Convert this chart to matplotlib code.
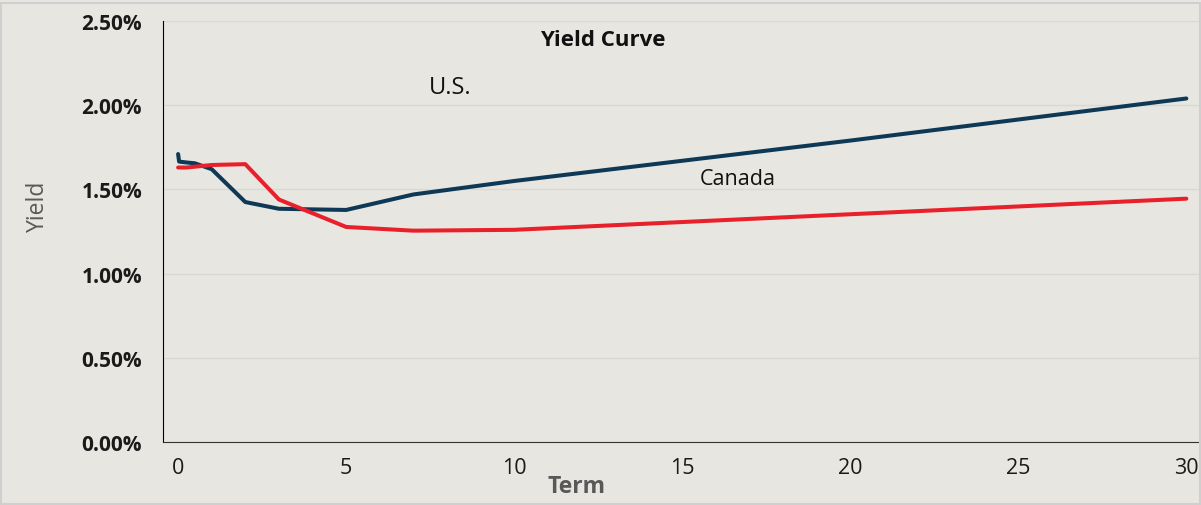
import matplotlib.pyplot as plt
from matplotlib.ticker import FuncFormatter
from matplotlib.patches import Rectangle

plt.rcParams['font.family'] = ['Open Sans', 'DejaVu Sans']

# Datos de la curva de rendimiento (plazo en años, rendimiento en %)
us_term = [0.0, 0.03, 0.25, 0.5, 1, 2, 3, 5, 7, 10, 20, 30]
us_yield = [1.71, 1.665, 1.66, 1.655, 1.62, 1.425, 1.385, 1.378, 1.47, 1.55, 1.79, 2.04]

ca_term = [0.0, 0.25, 0.5, 1, 2, 3, 5, 7, 10, 30]
ca_yield = [1.63, 1.63, 1.635, 1.645, 1.65, 1.44, 1.277, 1.255, 1.26, 1.445]

x_ticks = [0, 5, 10, 15, 20, 25, 30]
y_ticks = [0, 0.5, 1.0, 1.5, 2.0, 2.5]

bg = '#E8E6E0'
fig = plt.figure(figsize=(12.01, 5.06), dpi=100, facecolor=bg)
ax = fig.add_axes([0.1357, 0.1245, 0.8633, 0.832])
ax.set_facecolor(bg)

ax.plot(us_term, us_yield, color='#0E3956', lw=2.9, solid_capstyle='round')
ax.plot(ca_term, ca_yield, color='#E8202B', lw=2.9, solid_capstyle='round')

ax.set_xlim(-0.45, 30.4)
ax.set_ylim(0, 2.5)
ax.set_xticks(x_ticks)
ax.set_yticks(y_ticks)
ax.yaxis.set_major_formatter(FuncFormatter(lambda v, p: f'{v:.2f}%'))
ax.grid(axis='y', color='#D9D8D4', lw=1)
ax.set_axisbelow(True)
ax.tick_params(length=0)
ax.tick_params(axis='y', pad=15, labelsize=15, labelcolor='#1a1a1a')
ax.tick_params(axis='x', pad=11, labelsize=15.5, labelcolor='#1a1a1a')
for lab in ax.get_yticklabels():
    lab.set_fontweight('bold')

for s in ['top', 'right']:
    ax.spines[s].set_visible(False)
ax.spines['left'].set_color('black')
ax.spines['bottom'].set_color('#333333')

# Textos
fig.text(603 / 1201, 1 - 40 / 506, 'Yield Curve', ha='center', va='center',
         fontsize=16, fontweight='bold', color='#111111')
fig.text(450 / 1201, 1 - 88 / 506, 'U.S.', ha='center', va='center',
         fontsize=17, color='#111111')
fig.text(738 / 1201, 1 - 180 / 506, 'Canada', ha='center', va='center',
         fontsize=15.5, color='#111111')
fig.text(576 / 1201, 1 - 487 / 506, 'Term', ha='center', va='center',
         fontsize=16.5, fontweight='bold', color='#595959')
fig.text(38 / 1201, 1 - 206 / 506, 'Yield', ha='center', va='center',
         fontsize=16.5, color='#595959', rotation=90)

# Borde exterior
fig.patches.append(Rectangle((0.001, 0.002), 0.998, 0.99, transform=fig.transFigure,
                             fill=False, edgecolor='#CFCFCF', lw=1.5))

fig.savefig('out.png', dpi=100, facecolor=bg)
